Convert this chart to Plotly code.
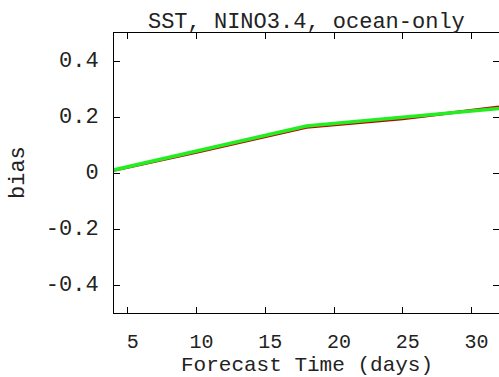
import plotly.graph_objects as go

days = [4, 10, 18, 25, 32]
bias_red = [0.010, 0.074, 0.163, 0.194, 0.236]
bias_green = [0.011, 0.077, 0.168, 0.199, 0.230]

x_ticks = [5, 10, 15, 20, 25, 30]
y_ticks = [-0.4, -0.2, 0, 0.2, 0.4]
y_ticklabels = ["-0.4", "-0.2", "0", "0.2", "0.4"]

FONT = "Liberation Mono, DejaVu Sans Mono, monospace"
TXT = "#222"
FS = 22

fig = go.Figure()
fig.add_trace(go.Scatter(x=days, y=bias_red, mode="lines",
                         line=dict(color="#c00000", width=3), showlegend=False))
fig.add_trace(go.Scatter(x=days, y=bias_green, mode="lines",
                         line=dict(color="#22ee22", width=3.5), showlegend=False))

axis_common = dict(
    showline=True, linecolor="black", linewidth=1, mirror="allticks",
    ticks="inside", ticklen=6, tickwidth=1, tickcolor="black",
    showgrid=False, zeroline=False, automargin=False,
)

fig.update_layout(
    width=499, height=377,
    margin=dict(l=114, r=0, t=33, b=64),
    paper_bgcolor="white", plot_bgcolor="white",
    title=dict(text="SST, NINO3.4, ocean-only", x=0.614, xanchor="center",
               y=1 - 20 / 377, yanchor="middle", yref="container",
               font=dict(family=FONT, size=FS, color=TXT)),
    xaxis=dict(range=[4, 32], tickvals=x_ticks, ticklabelstandoff=10,
               ticklabelshift=5, tickfont=dict(family=FONT, size=20, color=TXT),
               **axis_common),
    yaxis=dict(range=[-0.5, 0.5], tickvals=y_ticks, ticktext=y_ticklabels,
               ticklabelstandoff=10, ticklabelshift=-2,
               tickfont=dict(family=FONT, size=FS, color=TXT),
               **axis_common),
    annotations=[
        dict(text="Forecast Time (days)", xref="paper", yref="paper",
             x=0.5, y=-52 / 280, xanchor="center", yanchor="middle",
             showarrow=False, font=dict(family=FONT, size=21, color=TXT)),
        dict(text="bias", xref="paper", yref="paper",
             x=-96 / 385, y=0.5, xanchor="center", yanchor="middle",
             textangle=-90, showarrow=False,
             font=dict(family=FONT, size=FS, color=TXT)),
    ],
)

fig.write_html(
    "out.html",
    config={"displayModeBar": False},
    post_script="document.body.style.margin='0';document.body.style.overflow='hidden';",
)
